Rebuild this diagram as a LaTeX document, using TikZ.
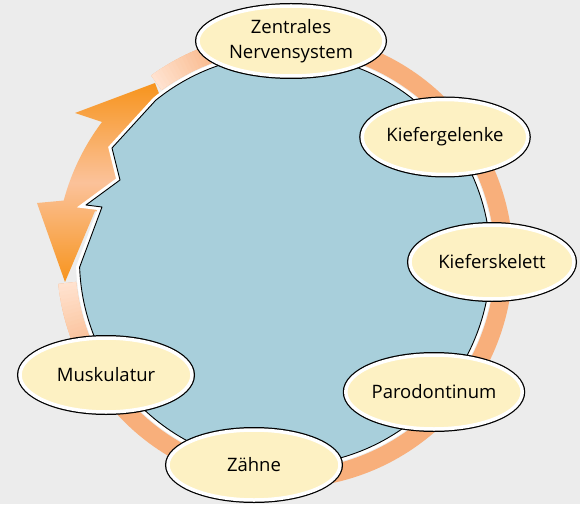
\documentclass[tikz,border=0pt]{standalone}
\usepackage{fontspec}
\setmainfont{Open Sans}
\usetikzlibrary{shapes.geometric}

\definecolor{bggray}{HTML}{ECECEC}
\definecolor{circleblue}{HTML}{A8CFDB}
\definecolor{ringpeach}{HTML}{F8AF7B}
\definecolor{ringlight}{HTML}{FFE2CF}
\definecolor{arroworange}{HTML}{F7941D}
\definecolor{arrowlight}{HTML}{FBC29A}
\definecolor{bubblecream}{HTML}{FDF1C3}

\tikzset{
	bubble/.style={ellipse, fill=bubblecream, draw=white, line width=3.5pt,
		preaction={draw=black, line width=6pt}, inner sep=0pt, align=center,
		font=\fontsize{18.5}{25}\selectfont},
	ring/.style={line width=18pt},
}

\begin{document}
\begin{tikzpicture}[x=1pt,y=1pt]

	\useasboundingbox (0,0) rectangle (580,504);
	\fill[bggray] (0,0) rectangle (580,504);

	\begin{scope}[shift={(285,244)}]
		% ring round the circle, fading near the arrow tips
		\draw[ring,ringpeach] (126:219pt) arc[start angle=126, end angle=-174, radius=219pt];
		\foreach \i [evaluate=\i as \p using int(5*\i)] in {0,...,20}
			\draw[ring,ringpeach!\p!ringlight] ({126-\i}:219pt) arc[start angle=126-\i, end angle=124.6-\i, radius=219pt];
		\foreach \i [evaluate=\i as \p using int(4*\i)] in {0,...,25}
			\draw[ring,ringpeach!\p!ringlight] ({186+\i}:219pt) arc[start angle=186+\i, end angle=187.4+\i, radius=219pt];

		% double arrow
		\shade[top color=arroworange, bottom color=arroworange, middle color=arrowlight]
			(-130,177) -- (-210,147) -- (-183,138)
			arc[start angle=143, end angle=165, radius=229pt]
			-- (-248,57) -- (-220,-22) -- (-190,49) -- (166:178pt)
			arc[start angle=166, end angle=130, radius=178pt] -- cycle;

		% circle with the notch
		\draw[fill=circleblue, line width=0.9pt, line join=round, preaction={draw=white, line width=7pt}]
			(129:205.5pt) arc[start angle=129, end angle=-178, radius=205.5pt]
			-- (-183,53) -- (-199,55) -- (-165,80) -- (-173,112) -- cycle;
	\end{scope}

	\node[bubble, minimum width=186pt, minimum height=70pt] (zns) at (291,463) {Zentrales\\Nervensystem};
	\node[bubble, minimum width=158pt, minimum height=75pt] (gelenk) at (445,367) {Kiefergelenke};
	\node[bubble, minimum width=164pt, minimum height=74pt] (skelett) at (492,242) {Kieferskelett};
	\node[bubble, minimum width=172pt, minimum height=74pt] (paro) at (434,112) {Parodontinum};
	\node[bubble, minimum width=172pt, minimum height=74pt] (muskel) at (106,129) {Muskulatur};
	\node[bubble, minimum width=172pt, minimum height=70pt] (zahn) at (254,39) {Zähne};

\end{tikzpicture}
\end{document}
